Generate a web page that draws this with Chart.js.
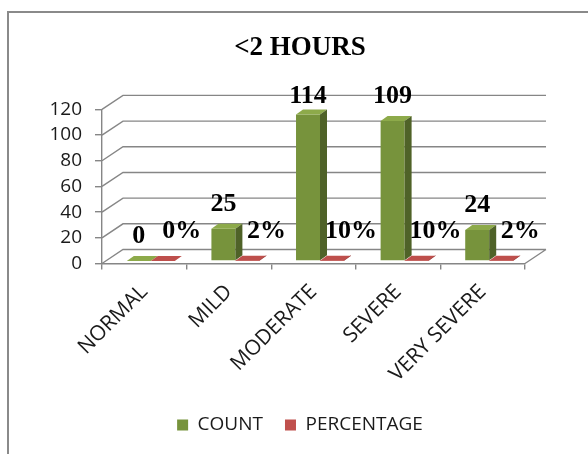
<!DOCTYPE html>
<html>
<head>
<meta charset="utf-8">
<script src="https://cdn.jsdelivr.net/npm/chart.js@4/dist/chart.umd.min.js"></script>
<style>
  html, body { margin: 0; padding: 0; background: #fff; }
  canvas { display: block; }
</style>
</head>
<body>
<canvas id="c" width="588" height="454"></canvas>
<script>
// ---- data ----
const chartTitle = '<2 HOURS';
const categories = ['NORMAL', 'MILD', 'MODERATE', 'SEVERE', 'VERY SEVERE'];
const seriesNames = ['COUNT', 'PERCENTAGE'];
const countValues = [0, 25, 114, 109, 24];
const percentValues = [0.00, 0.02, 0.10, 0.10, 0.02];
const yTicks = [0, 20, 40, 60, 80, 100, 120];

// ---- styling ----
const GREEN = { front: '#77933C', side: '#4F6228', top: '#8DAA4A' };
const RED = { front: '#C0504D', side: '#8E3A38', top: '#BE4F4C' };
const GRID = '#868686';
const WALL = { dx: 21, dy: -14 };       // back wall offset (depth of the plot box)
const BAR_SHIFT = { x: 6.5, y: -2.6 };  // bars sit a little behind the front edge
const BAR_DEPTH = { dx: 7, dy: -5 };    // depth of each bar
const Y_FONT = { family: '"Open Sans", sans-serif', size: 19 };
const X_FONT = { family: '"Open Sans", sans-serif', size: 21 };
const LABEL_FONT = 'bold 26px "Liberation Serif", serif';

const pct = v => Math.round(v * 100) + '%';

// Pseudo-3D: back wall, bar side/top faces and value labels
const depthPlugin = {
  id: 'depth3d',
  beforeDraw(chart) {
    const ctx = chart.ctx;
    ctx.save();
    ctx.strokeStyle = '#8a8a8a';
    ctx.lineWidth = 2;
    ctx.strokeRect(8, 12, chart.width + 20, chart.height + 20);
    ctx.restore();
  },
  beforeDatasetsDraw(chart) {
    const { ctx, chartArea: a, scales: { y } } = chart;
    ctx.save();
    ctx.strokeStyle = GRID;
    ctx.lineWidth = 1.4;
    ctx.beginPath();
    yTicks.forEach(v => {
      const py = y.getPixelForValue(v);
      ctx.moveTo(a.left, py);
      ctx.lineTo(a.left + WALL.dx, py + WALL.dy);
      ctx.lineTo(a.right + WALL.dx, py + WALL.dy);
    });
    const y0 = y.getPixelForValue(0);
    ctx.moveTo(a.right, y0);
    ctx.lineTo(a.right + WALL.dx, y0 + WALL.dy);
    ctx.stroke();
    ctx.restore();
    // bars are drawn shifted into the box
    ctx.save();
    ctx.translate(BAR_SHIFT.x, BAR_SHIFT.y);
  },
  afterDatasetsDraw(chart) {
    const ctx = chart.ctx;
    const { dx, dy } = BAR_DEPTH;
    chart.data.datasets.forEach((ds, di) => {
      const pal = di === 0 ? GREEN : RED;
      chart.getDatasetMeta(di).data.forEach(bar => {
        const { x, y, base, width } = bar.getProps(['x', 'y', 'base', 'width'], true);
        const l = x - width / 2, r = x + width / 2;
        ctx.fillStyle = pal.top;
        ctx.beginPath();
        ctx.moveTo(l, y); ctx.lineTo(r, y);
        ctx.lineTo(r + dx, y + dy); ctx.lineTo(l + dx, y + dy);
        ctx.closePath(); ctx.fill();
        ctx.fillStyle = pal.side;
        ctx.beginPath();
        ctx.moveTo(r, y); ctx.lineTo(r + dx, y + dy);
        ctx.lineTo(r + dx, base + dy); ctx.lineTo(r, base);
        ctx.closePath(); ctx.fill();
      });
    });
    ctx.restore();

    // value labels
    const a = chart.chartArea;
    ctx.save();
    ctx.font = LABEL_FONT;
    ctx.fillStyle = '#000';
    ctx.textAlign = 'center';
    ctx.textBaseline = 'alphabetic';
    chart.getDatasetMeta(0).data.forEach((bar, i) => {
      const bx = bar.x + BAR_SHIFT.x, by = bar.y + BAR_SHIFT.y;
      ctx.fillText(String(countValues[i]), bx, Math.max(by - 18, a.top - 6));
    });
    chart.getDatasetMeta(1).data.forEach((bar, i) => {
      const bx = bar.x + BAR_SHIFT.x, by = bar.y + BAR_SHIFT.y;
      ctx.fillText(pct(percentValues[i]), bx + 19, by - 22.5);
    });
    ctx.restore();
  }
};

new Chart(document.getElementById('c'), {
  type: 'bar',
  data: {
    labels: categories,
    datasets: [
      { label: seriesNames[0], data: countValues, backgroundColor: GREEN.front, borderWidth: 0,
        categoryPercentage: 0.567, barPercentage: 1 },
      { label: seriesNames[1], data: percentValues, backgroundColor: RED.front, borderWidth: 0,
        categoryPercentage: 0.567, barPercentage: 1 }
    ]
  },
  options: {
    responsive: false,
    animation: false,
    layout: { padding: { left: 45, right: 33, top: 0, bottom: 9.5 } },
    scales: {
      x: {
        grid: { drawOnChartArea: false, drawTicks: true, tickLength: 6, color: GRID, lineWidth: 1.4, offset: true },
        border: { display: true, color: GRID, width: 1.4 },
        ticks: { maxRotation: 45, minRotation: 45, autoSkip: false, padding: 10, font: X_FONT, color: '#1a1a1a' },
        afterFit(scale) { scale.height = 130; }
      },
      y: {
        min: 0, max: 120,
        grid: { drawOnChartArea: false, drawTicks: true, tickLength: 7, color: GRID, lineWidth: 1.4 },
        border: { display: true, color: GRID, width: 1.4 },
        ticks: { stepSize: 20, autoSkip: false, padding: 13, font: Y_FONT, color: '#1a1a1a' },
        afterFit(scale) { scale.width = 57; }
      },
      // blank right-hand margin that keeps room for the box depth
      depth: {
        type: 'linear', position: 'right', display: true,
        grid: { display: false, drawTicks: false },
        border: { display: false },
        ticks: { display: false },
        afterFit(scale) { scale.width = 30; }
      }
    },
    plugins: {
      title: {
        display: true, text: chartTitle, color: '#000',
        font: { family: '"Liberation Serif", serif', size: 27, weight: 'bold' },
        padding: { top: 32, bottom: 45 }
      },
      legend: {
        position: 'bottom',
        labels: { boxWidth: 11, boxHeight: 11, padding: 22, color: '#1a1a1a',
          font: { family: '"Open Sans", sans-serif', size: 19 } }
      },
      tooltip: { enabled: false }
    }
  },
  plugins: [depthPlugin]
});
</script>
</body>
</html>
